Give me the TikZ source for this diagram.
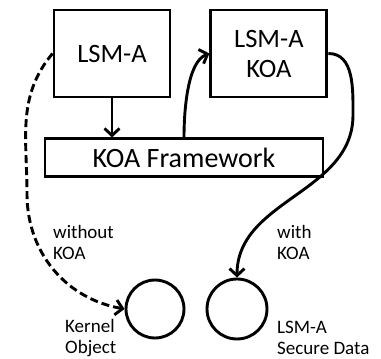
\documentclass[tikz,border=0pt]{standalone}
\usepackage{fontspec}
\setmainfont{Carlito}
\usetikzlibrary{arrows.meta, positioning}

\begin{document}
\begin{tikzpicture}[
        x=1pt, y=1pt,
        every node/.style={font=\fontsize{19}{21}\selectfont},
        box/.style={rectangle, draw=black, line width=2.9pt, align=center, minimum width=116pt, minimum height=87pt, inner sep=0pt, font=\fontsize{26.5}{30}\selectfont},
        fwbox/.style={rectangle, draw=black, line width=2.9pt, minimum width=278pt, minimum height=38pt, inner sep=0pt, font=\fontsize{28}{30}\selectfont},
        obj/.style={circle, draw=black, line width=2.9pt, minimum size=58pt, inner sep=0pt},
        lbl/.style={align=left, anchor=west, inner sep=0pt},
        arr/.style={-{Straight Barb[length=7pt, width=15pt]}, line width=2.9pt},
        darr/.style={arr, dash pattern=on 8pt off 4pt}
    ]
        \useasboundingbox (0,0) rectangle (381,359);

        \node[box] (lsma) at (112,305.5) {LSM-A};
        \node[box, right=38pt of lsma] (koa) {LSM-A\\KOA};
        \node[fwbox, below=39pt of lsma, xshift=72pt] (fw) {KOA Framework};

        \node[obj] (kobj) at (155,50) {};
        \node[obj, minimum size=60pt] (sdata) at (237,50) {};

        \node[lbl] (without) at (53,117) {without\\KOA};
        \node[lbl] (with) at (277,117) {with\\KOA};
        \node[lbl] (kobjlbl) at (65,21) {Kernel\\Object};
        \node[lbl] (sdatalbl) at (277,21) {LSM-A\\Secure Data};

        \coordinate (lbend) at (27,165);
        \coordinate (rbend) at (353,244);

        \draw[arr] (lsma.south) -- (lsma.south |- fw.north);
        \draw[arr] (fw.north) to[out=90, in=200, looseness=0.7] (koa.west);
        \draw[arr] (koa.east) to[out=0, in=90] (rbend) to[out=-90, in=90] (sdata.north);
        \draw[darr] (lsma.west) to[out=230, in=90] (lbend) to[out=-90, in=170] (kobj.west);
    \end{tikzpicture}
\end{document}
